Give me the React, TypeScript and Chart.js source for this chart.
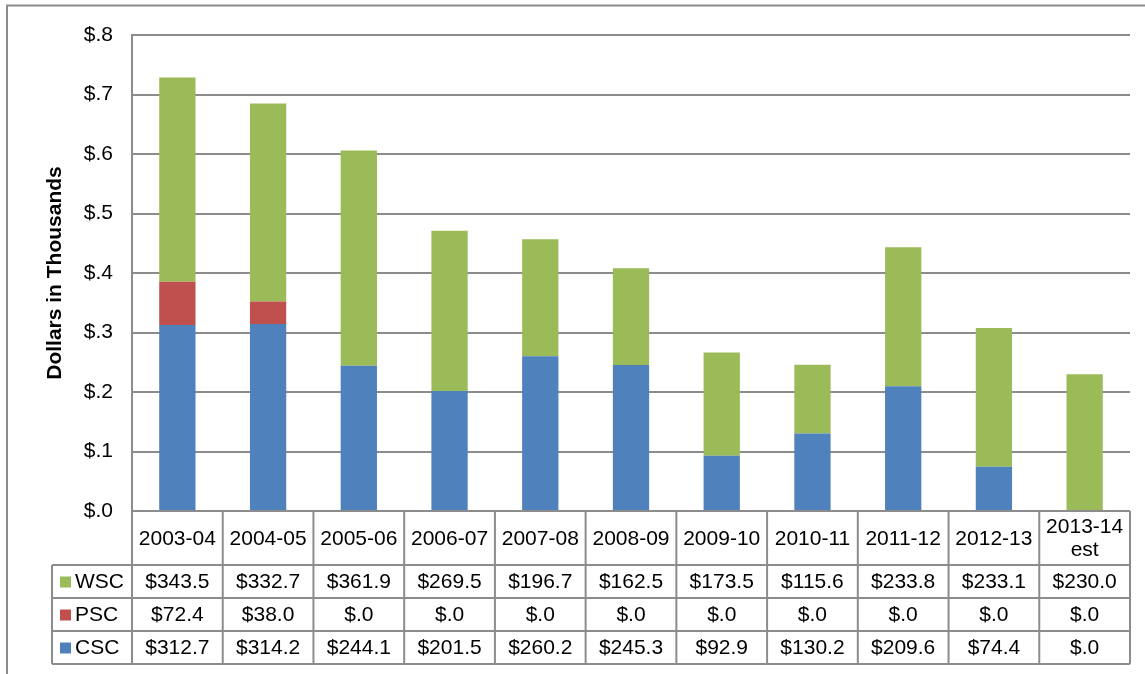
import React, { useEffect, useRef } from "react";
import { Chart, registerables } from "chart.js";

Chart.register(...registerables);

const categories = ["2003-04", "2004-05", "2005-06", "2006-07", "2007-08", "2008-09", "2009-10", "2010-11", "2011-12", "2012-13", "2013-14\nest"];
const wscValues = [343.5, 332.7, 361.9, 269.5, 196.7, 162.5, 173.5, 115.6, 233.8, 233.1, 230.0];
const pscValues = [72.4, 38.0, 0, 0, 0, 0, 0, 0, 0, 0, 0];
const cscValues = [312.7, 314.2, 244.1, 201.5, 260.2, 245.3, 92.9, 130.2, 209.6, 74.4, 0];
const yTicks = [0, 0.1, 0.2, 0.3, 0.4, 0.5, 0.6, 0.7, 0.8];

const WSC_COLOR = "#9BBB59";
const PSC_COLOR = "#C0504D";
const CSC_COLOR = "#4F81BD";
const FONT = "Arial, 'Liberation Sans', sans-serif";
const FS = 21;

const fmt = (v: number) => (v === 0 ? "$.0" : "$" + v.toFixed(1));
const fmtTick = (v: number) => "$." + Math.round(v * 10);

const tableRows = [
  { name: "WSC", color: WSC_COLOR, values: wscValues },
  { name: "PSC", color: PSC_COLOR, values: pscValues },
  { name: "CSC", color: CSC_COLOR, values: cscValues },
];

const tablePlugin = {
  id: "dataTable",
  afterDraw(chart: any) {
    const ctx = chart.ctx;
    const area = chart.chartArea;
    const xs = chart.scales.x;
    const n = categories.length;
    const colW = (area.right - area.left) / n;
    const top = area.bottom;
    const headerH = 54;
    const rowH = 33;
    const legendLeft = 52;
    const gridColor = "#8c8c8c";
    ctx.save();
    ctx.strokeStyle = gridColor;
    ctx.lineWidth = 2;
    const tableBottom = top + headerH + rowH * tableRows.length;
    for (let r = 0; r <= tableRows.length; r++) {
      const y = top + headerH + r * rowH;
      ctx.beginPath();
      ctx.moveTo(legendLeft, y);
      ctx.lineTo(area.right, y);
      ctx.stroke();
    }
    ctx.beginPath();
    ctx.moveTo(area.left, top);
    ctx.lineTo(area.right, top);
    ctx.stroke();
    for (let i = 0; i <= n; i++) {
      const x = area.left + i * colW;
      ctx.beginPath();
      ctx.moveTo(x, top);
      ctx.lineTo(x, tableBottom);
      ctx.stroke();
    }
    ctx.beginPath();
    ctx.moveTo(legendLeft, top + headerH);
    ctx.lineTo(legendLeft, tableBottom);
    ctx.stroke();

    ctx.fillStyle = "#000";
    ctx.font = FS + "px " + FONT;
    ctx.textAlign = "center";
    ctx.textBaseline = "middle";
    categories.forEach((c, i) => {
      const cx = xs.getPixelForValue(i);
      const lines = c.split("\n");
      if (lines.length === 1) {
        ctx.fillText(lines[0], cx, top + headerH / 2 + 1);
      } else {
        ctx.fillText(lines[0], cx, top + 16);
        ctx.fillText(lines[1], cx, top + 39);
      }
    });
    tableRows.forEach((row, r) => {
      const cy = top + headerH + r * rowH + rowH / 2 + 1;
      ctx.textAlign = "center";
      row.values.forEach((v, i) => {
        ctx.fillStyle = "#000";
        ctx.fillText(fmt(v), xs.getPixelForValue(i), cy);
      });
      ctx.fillStyle = row.color;
      ctx.fillRect(60, cy - 6, 11, 11);
      ctx.fillStyle = "#000";
      ctx.textAlign = "left";
      ctx.fillText(row.name, 75, cy);
    });
    ctx.strokeStyle = "#8c8c8c";
    ctx.lineWidth = 2;
    ctx.beginPath();
    ctx.moveTo(7, 700);
    ctx.lineTo(7, 5.5);
    ctx.lineTo(1150, 5.5);
    ctx.stroke();
    ctx.restore();
  },
};

export default function App() {
  const ref = useRef<HTMLCanvasElement>(null);
  useEffect(() => {
    if (!ref.current) return;
    const chart = new Chart(ref.current, {
      type: "bar",
      data: {
        labels: categories,
        datasets: [
          { label: "CSC", data: cscValues.map((v) => v / 1000), backgroundColor: CSC_COLOR, stack: "s" },
          { label: "PSC", data: pscValues.map((v) => v / 1000), backgroundColor: PSC_COLOR, stack: "s" },
          { label: "WSC", data: wscValues.map((v) => v / 1000), backgroundColor: WSC_COLOR, stack: "s" },
        ],
      },
      options: {
        responsive: false,
        animation: false,
        layout: { padding: { left: 0, top: 35, right: 15, bottom: 163 } },
        plugins: { legend: { display: false }, tooltip: { enabled: false } },
        datasets: { bar: { categoryPercentage: 1, barPercentage: 0.4 } },
        scales: {
          x: { display: false, stacked: true },
          y: {
            stacked: true,
            min: 0,
            max: 0.8,
            afterBuildTicks: (scale: any) => {
              scale.ticks = yTicks.map((v) => ({ value: v }));
            },
            afterFit: (scale: any) => {
              scale.width = 132;
            },
            border: { display: true, color: "#8c8c8c", width: 2 },
            grid: { color: "#8c8c8c", lineWidth: 2, drawTicks: false },
            ticks: {
              color: "#000",
              font: { family: FONT, size: FS },
              padding: 19,
              callback: (v: any) => fmtTick(Number(v)),
            },
            title: {
              display: true,
              text: "Dollars in Thousands",
              color: "#000",
              font: { family: FONT, size: FS, weight: "bold" },
              padding: { top: 43, bottom: 0 },
            },
          },
        },
      },
      plugins: [tablePlugin],
    });
    return () => chart.destroy();
  }, []);
  return (
    <div style={{ position: "absolute", left: 0, top: 0, width: 1145, height: 674, background: "#fff" }}>
      <canvas ref={ref} width={1145} height={674} style={{ width: 1145, height: 674 }} />
    </div>
  );
}
